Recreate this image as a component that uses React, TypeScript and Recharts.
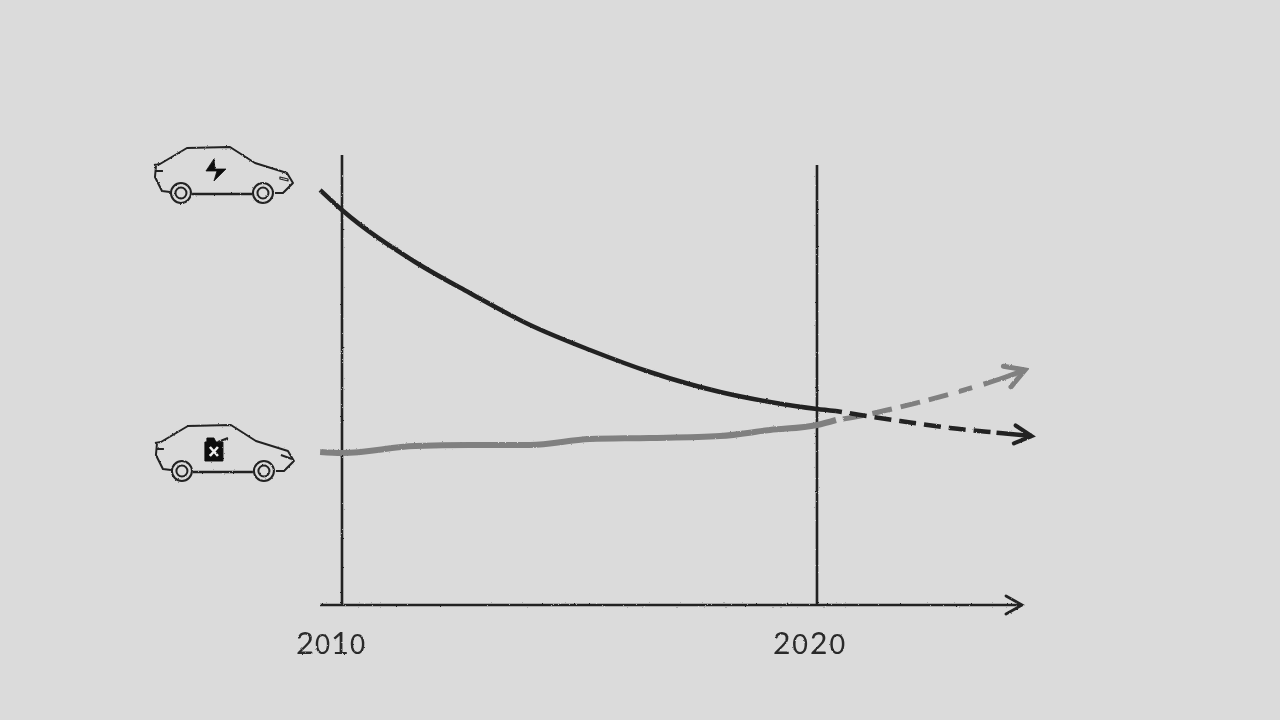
import { LineChart, Line, XAxis, YAxis, ReferenceLine, ReferenceDot } from 'recharts';

// years on x, relative cost on y
const pastYears = [2009.54, 2010, 2011.54, 2012.69, 2013.96, 2015.22, 2016.48, 2017.96, 2019.01, 2020, 2020.4];
const evPast = [415, 395, 343, 312, 280, 255, 233, 213, 203, 196, 194];
const icePast = [153, 152, 159, 160, 160, 166, 167, 169, 175, 180, 185];

const evFutureYears = [2020.4, 2020.91, 2021.75, 2022.8, 2023.85, 2024.52];
const evFuture = [194, 190, 184, 177, 172, 169];
const iceFutureYears = [2020.4, 2020.91, 2021.75, 2022.8, 2023.85, 2024.38];
const iceFuture = [185, 189, 198, 211, 226, 235];

const tickYears = [2010, 2020];
const gridTops = [450, 440];
const axisEnd = 2024.316;
const carSpots = [
  { year: 2006.61, value: 412 },
  { year: 2006.63, value: 134 },
];

const toRows = (years: number[], values: number[]) => years.map((year, i) => ({ year, value: values[i] }));

const INK = '#232323';
const GREY = '#808080';

function YearTick({ x, y, payload }: any) {
  const first = payload.value === 2010;
  const digits = String(payload.value).split('');
  return (
    <text
      x={x + (first ? -11 : -7)}
      y={y + 41}
      textAnchor="middle"
      fill="#2a2a2a"
      fontFamily="Lato, sans-serif"
      letterSpacing={first ? 1 : 2}
    >
      {digits.map((d, i) => (
        <tspan key={i} fontSize={d === '0' ? (first ? 26 : 27) : first ? 31 : 30}>
          {d}
        </tspan>
      ))}
    </text>
  );
}

function CarBody({ cx, cy, children }: any) {
  return (
    <g transform={`translate(${cx} ${cy})`} fill="none" stroke="#222" strokeWidth={2} strokeLinejoin="round">
      <path d="M-27 -28 L-21 -29 L6 -45 L49 -46 L74 -30 L106 -20 L112 -10 L102 0 L94 0" />
      <path d="M-25 -27 L-26 -16 L-19 -2 L-11 -1" />
      <path d="M-25 -22 L-18 -22" />
      <path d="M11 1 L71 1" strokeWidth={2.6} />
      <circle r={10} />
      <circle r={5.5} />
      <circle cx={82} r={10} />
      <circle cx={82} r={5.5} />
      {children}
    </g>
  );
}

function ElectricCar(props: any) {
  return (
    <CarBody {...props}>
      <path d="M107 -14 L99 -16 L99 -14 L107 -12 Z" strokeWidth={1.2} />
      <path d="M33 -34 L25 -22 L36 -22 L33 -12 L45 -24 L34 -24 Z" fill="#111" stroke="#111" strokeWidth={0.8} />
    </CarBody>
  );
}

function FuelCar(props: any) {
  return (
    <CarBody {...props}>
      <path d="M99 -16 L110 -12" />
      <path d="M23 -29 L41 -29 L41 -10 L23 -10 Z M25 -29 L25 -33 L32 -33 L34 -29" fill="#111" stroke="#111" strokeWidth={1} />
      <path d="M36 -29 L46 -33" strokeWidth={2} />
      <path d="M28 -24 L36 -15 M36 -24 L28 -15" stroke="#eee" strokeWidth={2.6} />
    </CarBody>
  );
}

export default function App() {
  return (
    <div style={{ position: 'absolute', left: 0, top: 0, width: 1280, height: 720, background: '#dbdbdb' }}>
      <div style={{ filter: 'url(#rough)' }}>
        <LineChart
          width={1280}
          height={720}
          margin={{ top: 100, right: 240, bottom: 55, left: 320 }}
        >
          <defs>
            <filter id="rough" x="0" y="0" width="100%" height="100%">
              <feTurbulence type="fractalNoise" baseFrequency="0.55" numOctaves={2} seed={4} result="noise" />
              <feDisplacementMap in="SourceGraphic" in2="noise" scale={2} xChannelSelector="R" yChannelSelector="G" />
              <feGaussianBlur stdDeviation={0.6} />
            </filter>
            <marker id="headInk" viewBox="-20 -12 24 24" refX={0} refY={0} markerWidth={24} markerHeight={24} markerUnits="userSpaceOnUse" orient="auto">
              <path d="M-17 -9 L0 0 L-17 9" fill="none" stroke={INK} strokeWidth={4} strokeLinecap="round" />
            </marker>
            <marker id="headGrey" viewBox="-22 -14 26 28" refX={0} refY={0} markerWidth={26} markerHeight={28} markerUnits="userSpaceOnUse" orient="auto">
              <path d="M-19 -11 L0 0 L-19 11" fill="none" stroke={GREY} strokeWidth={5} strokeLinecap="round" />
            </marker>
            <marker id="headAxis" viewBox="-20 -12 24 24" refX={0} refY={0} markerWidth={24} markerHeight={24} markerUnits="userSpaceOnUse" orient="auto">
              <path d="M-16 -9 L0 0 L-16 9" fill="none" stroke={INK} strokeWidth={2.8} strokeLinecap="round" />
            </marker>
          </defs>
          <XAxis
            type="number"
            dataKey="year"
            domain={[2009.537, 2024.695]}
            ticks={tickYears}
            tick={YearTick}
            tickLine={false}
            axisLine={false}
            height={60}
            allowDuplicatedCategory={false}
          />
          <YAxis hide type="number" domain={[0, 505]} />
          {tickYears.map((year, i) => (
            <ReferenceLine
              key={year}
              segment={[{ x: year, y: 0 }, { x: year, y: gridTops[i] }]}
              stroke={INK}
              strokeWidth={2.6}
            />
          ))}
          <ReferenceLine
            segment={[{ x: 2009.537, y: 0 }, { x: axisEnd, y: 0 }]}
            stroke={INK}
            strokeWidth={2.6}
            markerEnd="url(#headAxis)"
          />
          <Line data={toRows(pastYears, icePast)} dataKey="value" type="monotone" stroke={GREY} strokeWidth={6} dot={false} isAnimationActive={false} />
          <Line data={toRows(iceFutureYears, iceFuture)} dataKey="value" type="monotone" stroke={GREY} strokeWidth={5} strokeDasharray="0 7 20 10 20 9 20 9 20 11 14 12 40" dot={false} markerEnd="url(#headGrey)" isAnimationActive={false} />
          <Line data={toRows(pastYears, evPast)} dataKey="value" type="monotone" stroke={INK} strokeWidth={4.5} dot={false} isAnimationActive={false} />
          <Line data={toRows(evFutureYears, evFuture)} dataKey="value" type="monotone" stroke={INK} strokeWidth={4.5} strokeDasharray="6 8 17 8 17 8 17 8 17 8 17 8 17 6 60" dot={false} markerEnd="url(#headInk)" isAnimationActive={false} />
          <ReferenceDot x={carSpots[0].year} y={carSpots[0].value} ifOverflow="visible" shape={ElectricCar} />
          <ReferenceDot x={carSpots[1].year} y={carSpots[1].value} ifOverflow="visible" shape={FuelCar} />
        </LineChart>
      </div>
    </div>
  );
}
